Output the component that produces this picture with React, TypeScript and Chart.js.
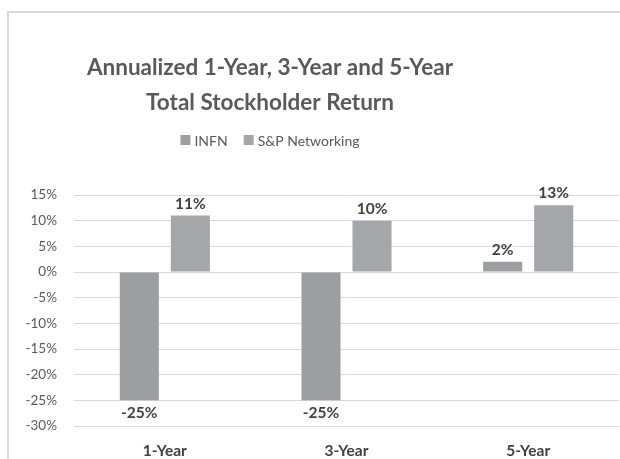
import React, { useEffect, useRef } from "react";
import { Chart, registerables } from "chart.js";

Chart.register(...registerables);

const categories = ["1-Year", "3-Year", "5-Year"];
const infnValues = [-25, -25, 2];
const spValues = [11, 10, 13];
const seriesNames = ["INFN", "S&P Networking"];
const seriesColors = ["#9d9ea2", "#a5a6aa"];
const titleLines = ["Annualized 1-Year, 3-Year and 5-Year", "Total Stockholder Return"];
const yMin = -30;
const yMax = 15;
const yStep = 5;

const FONT = "Lato, 'Open Sans', sans-serif";

const headerPlugin = {
  id: "header",
  afterDraw(chart: any) {
    const ctx = chart.ctx;
    const cx = 261;
    ctx.save();
    ctx.fillStyle = "#595959";
    ctx.textAlign = "center";
    ctx.textBaseline = "middle";
    ctx.font = `bold 22.5px ${FONT}`;
    ctx.fillText(titleLines[0], cx, 55);
    ctx.fillText(titleLines[1], cx, 90);
    // legend
    ctx.font = `14px ${FONT}`;
    const box = 10;
    const gapBoxText = 4;
    const gapItems = 16;
    const items = chart.data.datasets.map((d: any) => ({
      label: d.label,
      color: d.backgroundColor,
      w: box + gapBoxText + ctx.measureText(d.label).width,
    }));
    const total = items.reduce((s: number, it: any) => s + it.w, 0) + gapItems * (items.length - 1);
    let x = cx - total / 2;
    const y = 127;
    ctx.textAlign = "left";
    items.forEach((it: any) => {
      ctx.fillStyle = it.color;
      ctx.fillRect(x, y - box / 2, box, box);
      ctx.fillStyle = "#595959";
      ctx.fillText(it.label, x + box + gapBoxText, y + 1);
      x += it.w + gapItems;
    });
    ctx.restore();
  },
};

const dataLabelPlugin = {
  id: "dataLabels",
  afterDatasetsDraw(chart: any) {
    const ctx = chart.ctx;
    ctx.save();
    ctx.font = `bold 15.5px ${FONT}`;
    ctx.fillStyle = "#404040";
    ctx.textAlign = "center";
    ctx.textBaseline = "middle";
    chart.data.datasets.forEach((ds: any, di: number) => {
      const meta = chart.getDatasetMeta(di);
      meta.data.forEach((el: any, i: number) => {
        const v = ds.data[i];
        const y = v >= 0 ? el.y - 12 : el.y + 13;
        ctx.fillText(`${v}%`, el.x, y);
      });
    });
    ctx.restore();
  },
};

export default function App() {
  const ref = useRef<HTMLCanvasElement>(null);
  useEffect(() => {
    if (!ref.current) return;
    const chart = new Chart(ref.current, {
      type: "bar",
      data: {
        labels: categories,
        datasets: [
          { label: seriesNames[0], data: infnValues, backgroundColor: seriesColors[0] },
          { label: seriesNames[1], data: spValues, backgroundColor: seriesColors[1] },
        ],
      },
      options: {
        animation: false,
        responsive: false,
        devicePixelRatio: 1,
        layout: { padding: { top: 182, bottom: 13, left: 0, right: 10 } },
        datasets: { bar: { categoryPercentage: 0.562, barPercentage: 0.765 } },
        plugins: {
          legend: { display: false },
          title: { display: false },
          tooltip: { enabled: false },
        },
        scales: {
          x: {
            afterFit(scale: any) {
              scale.height = 34;
            },
            grid: { display: false },
            border: { display: false },
            ticks: {
              color: "#404040",
              font: { family: FONT, size: 15.5, weight: "bold" },
              padding: 8,
              maxRotation: 0,
              autoSkip: false,
            },
          },
          y: {
            min: yMin,
            max: yMax,
            afterFit(scale: any) {
              scale.width = 65;
            },
            grid: { color: "#d9d9d9", lineWidth: 1, drawTicks: false },
            border: { display: false },
            ticks: {
              stepSize: yStep,
              color: "#595959",
              font: { family: FONT, size: 13.5 },
              padding: 17,
              callback: (v: any) => `${v}%`,
            },
          },
        },
      },
      plugins: [headerPlugin, dataLabelPlugin],
    });
    return () => chart.destroy();
  }, []);

  return (
    <div
      style={{
        position: "absolute",
        left: 7,
        top: 11,
        width: 613,
        height: 448,
        overflow: "hidden",
        borderLeft: "2px solid #d9d9d9",
        borderTop: "2px solid #d9d9d9",
        background: "#ffffff",
      }}
    >
      <canvas ref={ref} width={620} height={460} style={{ display: "block", width: 620, height: 460 }} />
    </div>
  );
}
